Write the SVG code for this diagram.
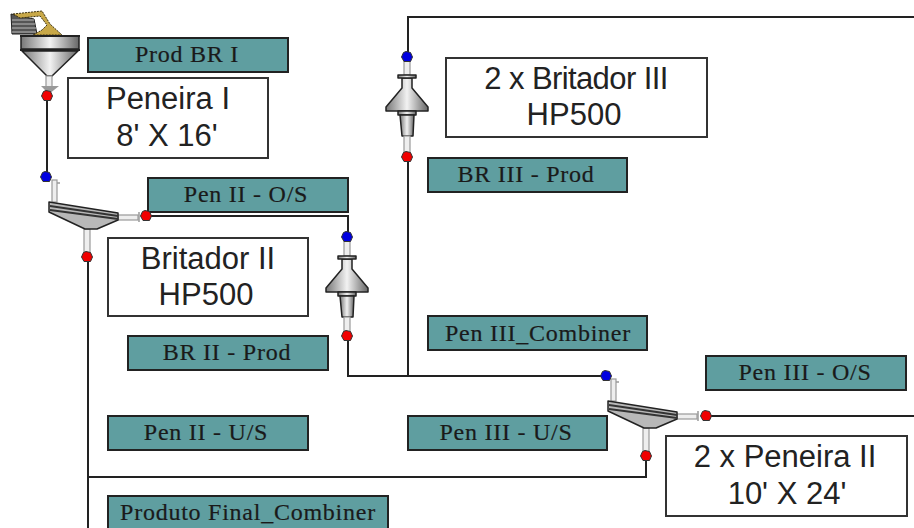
<svg xmlns="http://www.w3.org/2000/svg" width="914" height="528" viewBox="0 0 914 528">
<style>
.t{fill:#5f9ea0;stroke:#222;stroke-width:2}
.w{fill:#fff;stroke:#333;stroke-width:2}
.tt{font-family:"Liberation Serif",serif;font-size:24px;letter-spacing:.75px;text-anchor:middle;fill:#1a1a1a;stroke:#1a1a1a;stroke-width:.2}
.wt{font-family:"Liberation Sans",sans-serif;font-size:31px;text-anchor:middle;fill:#222}
.c{fill:none;stroke:#222;stroke-width:2}
.o{stroke:#222;stroke-width:1.5;stroke-linejoin:round}
.r{fill:#f00000;stroke:#333;stroke-width:1}
.b{fill:#0000e0;stroke:#333;stroke-width:1}
.pg{fill:#eee;stroke:#999;stroke-width:1.2}
</style>
<defs>
<linearGradient id="g"><stop offset="0" stop-color="#777"/><stop offset=".5" stop-color="#f2f2f2"/><stop offset="1" stop-color="#666"/></linearGradient>
<path id="m" d="M-1 -5.5L3.5 -4.5L5.5 0L3.5 4.5H-3L-5.5 0L-3.5 -4.5Z"/>
<g id="crusher">
<rect class="pg" x="-3" y="-20" width="6" height="20"/>
<path class="o" fill="url(#g)" d="M-5 3V13L-21 32V36H21V32L5 13V3Z"/>
<path class="o" fill="url(#g)" d="M-9 0H9V3H-9Z"/>
<path class="o" fill="url(#g)" d="M-9 36H9V40H-9Z"/>
<path class="o" fill="url(#g)" d="M-7 40L-5 61H6L7 40Z"/>
<rect class="pg" x="-3" y="61" width="6" height="20"/>
</g>
<g id="screen">
<rect class="pg" x="52" y="180" width="5" height="22"/>
<path d="M57 183H60" stroke="#999" stroke-width="1.5"/>
<rect class="pg" x="118" y="215" width="20" height="5"/>
<path d="M139 212V222" stroke="#999" stroke-width="1.5"/>
<rect class="pg" x="84" y="229" width="6" height="24"/>
<path class="o" fill="#b8b8b8" d="M49 202L118 213V220L97 229H85L49 212Z"/>
<path d="M50 206L118 216M50 210L118 219" stroke="#333" stroke-width="2" fill="none"/>
</g>
</defs>
<g id="connectors">
<path class="c" d="M47 100V177"/>
<path class="c" d="M88 257V528"/>
<path class="c" d="M88 477H646V456"/>
<path class="c" d="M146 216H348V237"/>
<path class="c" d="M348 336V376H606"/>
<path class="c" d="M408 376V157"/>
<path class="c" d="M408 57V17H914"/>
<path class="c" d="M706 416H914"/>
</g>
<g id="prod-br-i"><rect class="t" x="88" y="38" width="200" height="34"/><text class="tt" x="187" y="62">Prod BR I</text></g>
<g id="peneira-i"><rect class="w" x="68" y="78" width="200" height="80"/><text class="wt" x="168" y="109">Peneira I</text><text class="wt" x="167" y="146">8' X 16'</text></g>
<g id="pen-ii-os"><rect class="t" x="148" y="178" width="200" height="34"/><text class="tt" x="246" y="202">Pen II - O/S</text></g>
<g id="britador-ii"><rect class="w" x="108" y="238" width="200" height="78"/><text class="wt" x="208" y="269">Britador II</text><text class="wt" x="206" y="305">HP500</text></g>
<g id="br-ii-prod"><rect class="t" x="128" y="336" width="200" height="34"/><text class="tt" x="227" y="360">BR II - Prod</text></g>
<g id="pen-ii-us"><rect class="t" x="108" y="416" width="200" height="34"/><text class="tt" x="206" y="440">Pen II - U/S</text></g>
<g id="produto-final"><rect class="t" x="108" y="496" width="280" height="34"/><text class="tt" x="248" y="520">Produto Final_Combiner</text></g>
<g id="britador-iii"><rect class="w" x="446" y="58" width="261" height="79"/><text class="wt" x="576" y="89" letter-spacing="-.6">2 x Britador III</text><text class="wt" x="574" y="125">HP500</text></g>
<g id="br-iii-prod"><rect class="t" x="428" y="158" width="199" height="34"/><text class="tt" x="526" y="182">BR III - Prod</text></g>
<g id="pen-iii-combiner"><rect class="t" x="428" y="316" width="219" height="34"/><text class="tt" x="538" y="341">Pen III_Combiner</text></g>
<g id="pen-iii-os"><rect class="t" x="706" y="356" width="200" height="34"/><text class="tt" x="805" y="380">Pen III - O/S</text></g>
<g id="pen-iii-us"><rect class="t" x="408" y="416" width="199" height="34"/><text class="tt" x="506" y="440">Pen III - U/S</text></g>
<g id="peneira-ii"><rect class="w" x="666" y="436" width="241" height="80"/><text class="wt" x="785" y="467">2 x Peneira II</text><text class="wt" x="787" y="504">10' X 24'</text></g>
<g id="feed">
<path d="M11 14L34 19L37 34H12Z" fill="#555" stroke="#222"/>
<path d="M12 20H34M12 24H35M12 28H36M12 32H36" stroke="#bbb" stroke-width="1"/>
<path d="M13 14L42 11L50 24L62 35H33L42 30L47 25L40 16L20 18Z" fill="#c8a848" stroke="#3a3010" stroke-dasharray="2 1"/>
<path class="o" fill="url(#g)" d="M21 36H79V49H21Z"/>
<path d="M20 36H80M20 50H80" stroke="#222" stroke-width="2"/>
<path class="o" fill="url(#g)" d="M22 51H78L52 76H47Z"/>
<rect class="pg" x="46" y="76" width="6" height="11"/>
<path d="M41 86H59L49 94Z" fill="#999"/>
<use href="#m" class="r" x="47" y="96"/>
</g>
<g id="screen-1">
<use href="#screen"/>
<use href="#m" class="b" x="46" y="177"/>
<use href="#m" class="r" x="146" y="216"/>
<use href="#m" class="r" x="87" y="257"/>
</g>
<g id="crusher-2">
<use href="#crusher" x="347" y="256"/>
<use href="#m" class="b" x="347" y="237"/>
<use href="#m" class="r" x="347" y="336"/>
</g>
<g id="crusher-3">
<use href="#crusher" x="407" y="75"/>
<use href="#m" class="b" x="407" y="57"/>
<use href="#m" class="r" x="407" y="157"/>
</g>
<g id="screen-2">
<use href="#screen" x="559" y="199"/>
<use href="#m" class="b" x="606" y="376"/>
<use href="#m" class="r" x="706" y="416"/>
<use href="#m" class="r" x="646" y="456"/>
</g>
</svg>
